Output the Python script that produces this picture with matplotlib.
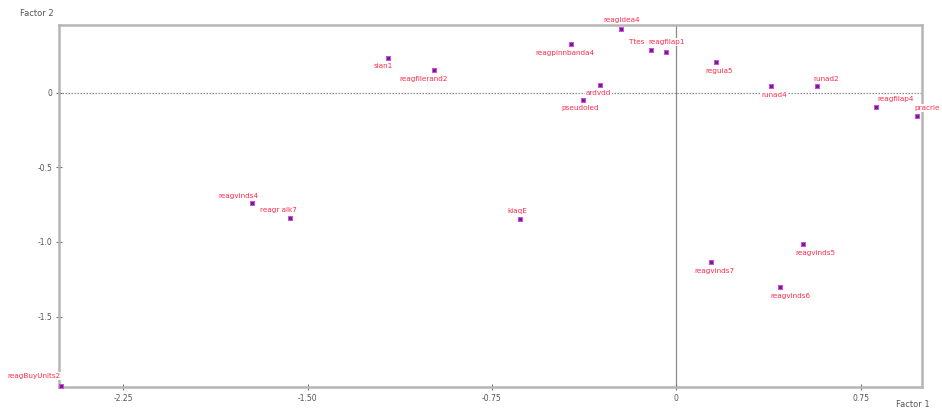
import matplotlib.pyplot as plt

# factor scores (Factor 1, Factor 2)
names = ["reagBuyUnits2", "reagIdea4", "Ttes", "reagfilap1", "reagpinnbanda4",
         "ardvdd", "pseudoled", "reguia5", "runad4", "runad2",
         "reagfilap4", "pracrie", "sian1", "reagfilerand2", "reagvinds4",
         "reagr alk7", "kiaqE", "reagvinds7", "reagvinds5", "reagvinds6"]
f1 = [-2.504, -0.224, -0.102, -0.041, -0.428,
      -0.309, -0.379, 0.163, 0.387, 0.574,
      0.814, 0.981, -1.173, -0.985, -1.726,
      -1.572, -0.635, 0.143, 0.517, 0.423]
f2 = [-1.966, 0.430, 0.289, 0.275, 0.329,
      0.054, -0.047, 0.208, 0.047, 0.047,
      -0.094, -0.154, 0.235, 0.154, -0.738,
      -0.839, -0.846, -1.134, -1.013, -1.302]

xticks = [-2.25, -1.50, -0.75, 0, 0.75]
xticklabels = ["-2.25", "-1.50", "-0.75", "0", "0.75"]
yticks = [0, -0.5, -1.0, -1.5]
yticklabels = ["0", "-0.5", "-1.0", "-1.5"]

# label offsets from each point, in pixels (right, up)
offsets = [(-27, 10), (0, 9), (-14, 8), (0, 10), (-6, -9),
           (-2, -8), (-3, -8), (3, -9), (3, -9), (9, 7),
           (19, 8), (10, 8), (-5, -8), (-11, -9), (-14, 7),
           (-12, 8), (-3, 8), (3, -9), (12, -9), (10, -9)]

fig = plt.figure(figsize=(9.42, 4.09), dpi=100)
ax = fig.add_axes([0.0626, 0.0538, 0.9162, 0.8851])

ax.set_xlim(-2.512, 1.0)
ax.set_ylim(-1.973, 0.456)

ax.axhline(0, color="#8a8a8a", lw=0.9, ls=(0, (1.2, 1.2)), zorder=1)
ax.axvline(0, color="#8a8a8a", lw=0.9, zorder=1)

ax.scatter(f1, f2, marker="s", s=9, facecolor="#5e2a8c", edgecolor="#e040e0",
           linewidth=0.7, zorder=4, clip_on=False)

for name, x, y, (dx, dy) in zip(names, f1, f2, offsets):
    ax.annotate(name, (x, y), xytext=(dx * 0.72, dy * 0.72), textcoords="offset points",
                ha="center", va="center", fontsize=5.2, color="#ff2a4a", zorder=3,
                annotation_clip=False,
                bbox=dict(boxstyle="square,pad=0.1", fc="white", ec="none"))

for side in ["left", "right", "top", "bottom"]:
    ax.spines[side].set_color("#b5b5b5")
    ax.spines[side].set_linewidth(1.8)

ax.set_xticks(xticks)
ax.set_xticklabels(xticklabels)
ax.set_yticks(yticks)
ax.set_yticklabels(yticklabels)
ax.tick_params(direction="inout", length=4, width=0.8, color="#707070",
               labelsize=5.5, labelcolor="#555555", pad=3)

fig.text(0.021, 0.966, "Factor 2", fontsize=6, color="#555555", va="center")
fig.text(0.951, 0.012, "Factor 1", fontsize=6, color="#555555", va="center")

fig.savefig("out.png", dpi=100)
